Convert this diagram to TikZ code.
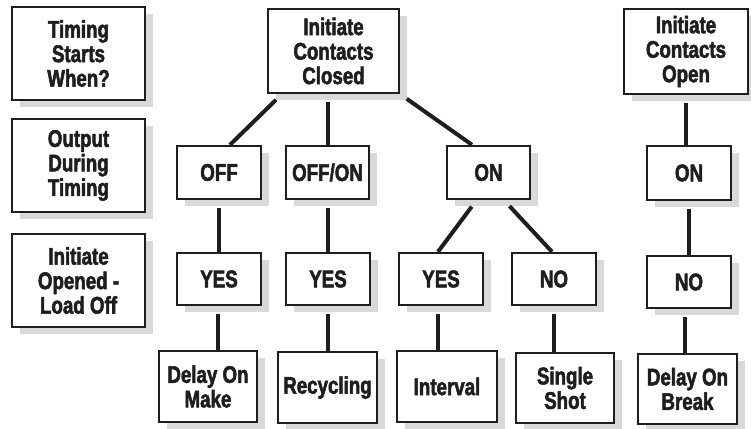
\documentclass[tikz,border=0pt]{standalone}
\usepackage{fontspec}
\setmainfont{Liberation Sans}[FakeStretch=0.78,FakeBold=2.2]
\usetikzlibrary{calc,shadows}
\definecolor{ink}{HTML}{1E1E1E}
\definecolor{shade}{HTML}{D9D9D9}
\tikzset{
  box/.style={draw=ink, line width=2.4pt, fill=white, inner sep=0pt, align=center,
    text=ink, font=\fontsize{24}{24.5}\selectfont\bfseries,
    general shadow={fill=shade, shadow xshift=8pt, shadow yshift=-7pt}},
  conn/.style={draw=ink, line width=4pt, shorten <=8pt}
}
\newcommand{\bx}[6]{\node[box, minimum width=#4pt, minimum height=#5pt] (#1) at (#2,#3) {#6};}
\begin{document}
\begin{tikzpicture}[x=1pt,y=-1pt]
\useasboundingbox (0,0) rectangle (751,428);
% left legend column
\bx{l1}{78.5}{53.5}{133}{93}{Timing\\Starts\\When?}
\bx{l2}{78.5}{165.5}{133}{93}{Output\\During\\Timing}
\bx{l3}{78.5}{280.5}{133}{93}{Initiate\\Opened -\\Load Off}
% top row
\bx{t1}{333.5}{51}{131}{84}{Initiate\\Contacts\\Closed}
\bx{t2}{686}{51.5}{124}{85}{Initiate\\Contacts\\Open}
% second row
\bx{off}{219}{172.5}{84}{53}{OFF}
\bx{offon}{327.5}{172.5}{83}{53}{OFF/ON}
\bx{on}{488.5}{172.5}{83}{53}{ON}
\bx{onr}{689}{173}{84}{54}{ON}
% third row
\bx{yesa}{219}{279}{84}{52}{YES}
\bx{yesb}{328}{279}{84}{52}{YES}
\bx{yesc}{441}{279}{84}{52}{YES}
\bx{noa}{554}{279}{84}{52}{NO}
\bx{nob}{689}{282}{84}{52}{NO}
% bottom row
\bx{dom}{208}{386.5}{98}{71}{Delay On\\Make}
\bx{rec}{327.5}{387.5}{99}{71}{Recycling}
\bx{int}{447}{386.5}{100}{71}{Interval}
\bx{ss}{565}{388}{98}{70}{Single\\Shot}
\bx{dob}{687.5}{389}{99}{70}{Delay On\\Break}
% connectors
\draw[conn] ($(t1.south west)+(15,0)$) -- ($(off.north)+(11,0)$);
\draw[conn] (t1.south -| offon.north) -- (offon.north);
\draw[conn] (t1.south east) -- ($(on.north)+(-16.5,0)$);
\draw[conn] (t2.south) -- (t2.south |- onr.north);
\draw[conn] (off.south) -- (yesa.north);
\draw[conn] (offon.south) -- (offon.south |- yesb.north);
\draw[conn] ($(on.south)+(-12,0)$) -- ($(yesc.north)+(-3,0)$);
\draw[conn] ($(on.south)+(15.5,0)$) -- ($(noa.north)+(-2,0)$);
\draw[conn] (onr.south) -- (onr.south |- nob.north);
\draw[conn] ($(yesa.south)+(-1,0)$) -- ($(yesa.south |- dom.north)+(-1,0)$);
\draw[conn] (yesb.south) -- (yesb.south |- rec.north);
\draw[conn] ($(yesc.south)+(-3,0)$) -- ($(yesc.south |- int.north)+(-3,0)$);
\draw[conn] (noa.south) -- (noa.south |- ss.north);
\draw[conn] ($(nob.south)+(-4,0)$) -- ($(nob.south |- dob.north)+(-4,0)$);
\end{tikzpicture}
\end{document}
